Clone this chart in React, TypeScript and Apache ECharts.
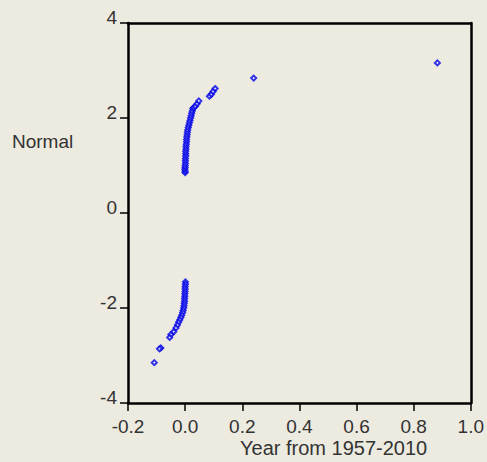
import React, { useEffect, useRef } from "react";
import * as echarts from "echarts";

const upperX = [0.0, 0.0, -0.001, 0.0, 0.0, 0.001, 0.001, 0.001, 0.002, 0.002, 0.002, 0.003, 0.003, 0.004, 0.005, 0.005, 0.006, 0.007, 0.008, 0.009, 0.011, 0.013, 0.015, 0.017, 0.019, 0.021, 0.023, 0.025, 0.027, 0.031, 0.036, 0.042, 0.048, 0.085, 0.092, 0.098, 0.105, 0.24, 0.883];
const upperY = [0.85, 0.88, 0.92, 0.96, 1.0, 1.05, 1.1, 1.15, 1.2, 1.25, 1.3, 1.35, 1.4, 1.45, 1.5, 1.55, 1.6, 1.65, 1.7, 1.75, 1.8, 1.85, 1.9, 1.95, 2.0, 2.05, 2.1, 2.15, 2.2, 2.22, 2.25, 2.3, 2.36, 2.46, 2.5, 2.56, 2.62, 2.84, 3.16];
const lowerX = [0.001, 0.001, 0.0, 0.0, 0.0, -0.001, -0.001, -0.002, -0.002, -0.003, -0.004, -0.005, -0.007, -0.009, -0.012, -0.015, -0.019, -0.023, -0.027, -0.032, -0.04, -0.05, -0.054, -0.085, -0.09, -0.108];
const lowerY = [-1.45, -1.5, -1.55, -1.6, -1.65, -1.7, -1.75, -1.8, -1.85, -1.9, -1.95, -2.0, -2.05, -2.1, -2.15, -2.2, -2.25, -2.3, -2.36, -2.42, -2.5, -2.56, -2.62, -2.84, -2.86, -3.15];

const xAxisTitle = "Year from 1957-2010";
const yAxisTitle = "Normal";

const FONT = "Liberation Sans, Arial, sans-serif";
const BG = "#EDEAE0";

const frameAxis = {
  type: "value",
  axisLine: { show: true, onZero: false, lineStyle: { color: "#000", width: 2.5 } },
  axisTick: { show: false },
  axisLabel: { show: false },
  splitLine: { show: false },
};

export default function App() {
  const ref = useRef<HTMLDivElement>(null);
  useEffect(() => {
    if (!ref.current) return;
    const chart = echarts.init(ref.current, undefined, { renderer: "svg" });
    const points: number[][] = [];
    upperX.forEach((x, i) => points.push([x, upperY[i]]));
    lowerX.forEach((x, i) => points.push([x, lowerY[i]]));
    chart.setOption({
      animation: false,
      backgroundColor: BG,
      grid: {
        left: 128,
        right: 13,
        top: 23,
        bottom: 59,
      },
      xAxis: [
        {
          type: "value",
          min: -0.2,
          max: 1.0,
          interval: 0.2,
          axisLine: { show: true, onZero: false, lineStyle: { color: "#000", width: 2.5 } },
          axisTick: { show: true, length: 8, lineStyle: { color: "#000", width: 1.5 } },
          splitLine: { show: false },
          axisLabel: {
            margin: 14,
            color: "#333",
            fontFamily: FONT,
            fontSize: 19,
            formatter: (v: number) => v.toFixed(1),
          },
        },
        { ...frameAxis, position: "top", min: -0.2, max: 1.0 },
      ],
      yAxis: [
        {
          type: "value",
          min: -4,
          max: 4,
          interval: 2,
          axisLine: { show: true, onZero: false, lineStyle: { color: "#000", width: 2.5 } },
          axisTick: { show: true, length: 8, lineStyle: { color: "#000", width: 1.5 } },
          splitLine: { show: false },
          axisLabel: {
            margin: 11,
            color: "#333",
            fontFamily: FONT,
            fontSize: 19,
            verticalAlign: "bottom",
            lineHeight: 19,
            padding: [0, 0, -4, 0],
          },
        },
        { ...frameAxis, position: "right", min: -4, max: 4 },
      ],
      graphic: [
        {
          type: "text",
          left: 12,
          top: 132,
          style: { text: yAxisTitle, fill: "#333", font: `19px ${FONT}` },
        },
        {
          type: "text",
          left: 240,
          top: 438,
          style: { text: xAxisTitle, fill: "#333", font: `20px ${FONT}` },
        },
      ],
      series: [
        {
          type: "scatter",
          data: points,
          symbol: "emptyDiamond",
          symbolSize: 5,
          itemStyle: { color: "#0000E6", borderWidth: 1.5 },
        },
      ],
    });
    return () => chart.dispose();
  }, []);
  return (
    <div
      ref={ref}
      style={{ position: "absolute", left: 0, top: 0, width: 487, height: 462 }}
    />
  );
}
